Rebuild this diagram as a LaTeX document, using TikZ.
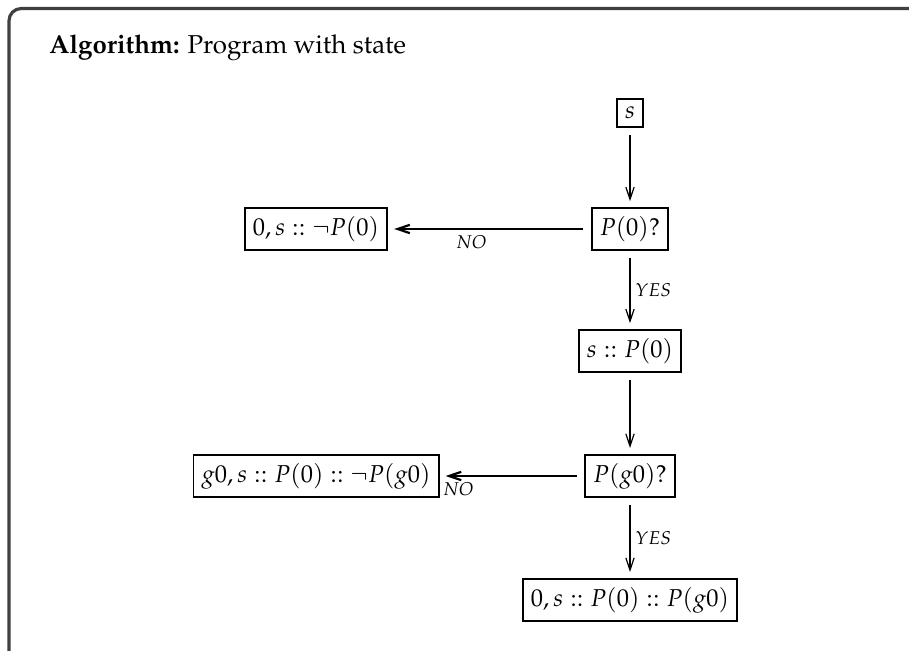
\documentclass[tikz,border=0pt]{standalone}
\usepackage[T1]{fontenc}
\usepackage{mathpazo}
\usepackage{tikz}
\usetikzlibrary{arrows.meta}
\usepackage{amsmath}
\tikzset{
    etat/.style={draw,line width=0.8pt,inner sep=3.3pt},
    fleche/.style={-{Straight Barb[length=5pt,width=3.4pt]},line width=0.5pt,shorten <=3pt,shorten >=2.5pt},
    flechenon/.style={fleche,line width=0.9pt},
    etiq/.style={inner sep=2pt},
  }

\begin{document}
\begin{tikzpicture}[x=0.0144cm,y=-0.0144cm]
				  %cadre coupe en bas et a droite
				  \useasboundingbox (0,0) rectangle (909,650);
				  \draw[line width=1.3pt,black!75,rounded corners=5pt] (9,700) -- (9,8.5) -- (960,8.5);
				  \node[anchor=base west,inner sep=0,font=\fontsize{10.6pt}{13pt}\selectfont] (titre) at (49,53) {\textbf{Algorithm:} Program with state};

				  %etats
				  \node[etat] (s) at (630,113) {$s$};
				  \node[etat] (p0) at (630,229) {$P(0)?$};
				  \node[etat] (non0) at (316,229) {$0, s :: \neg P(0)$};
				  \node[etat] (s0) at (630,351) {$s :: P(0)$};
				  \node[etat] (pg) at (630,476) {$P(g0)?$};
				  \node[etat] (nong) at (316,476) {$g0, s :: P(0) :: \neg P(g0)$};
				  \node[etat] (fin) at (630,600) {$0, s :: P(0) :: P(g0)$};

				  %fleches
				  \draw[fleche] (s) -- (p0);
				  \draw[flechenon] (p0) -- node[etiq,below,pos=0.59] {$\scriptstyle NO$} (non0);
				  \draw[fleche] (p0) -- node[etiq,right] {$\scriptstyle YES$} (s0);
				  \draw[fleche] (s0) -- (pg);
				  \draw[flechenon] (pg) -- node[etiq,below,pos=0.87] {$\scriptstyle NO$} (nong);
				  \draw[fleche] (pg) -- node[etiq,right] {$\scriptstyle YES$} (fin);
\end{tikzpicture}
\end{document}
